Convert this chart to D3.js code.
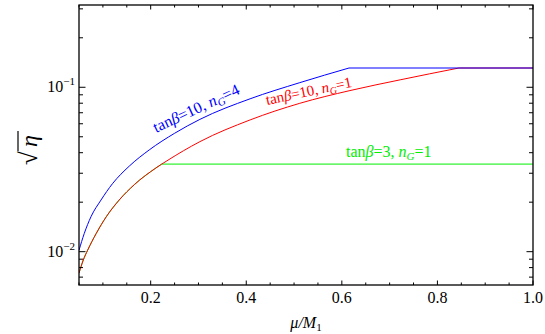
<!DOCTYPE html>
<html>
<head>
<meta charset="utf-8">
<script src="https://cdn.jsdelivr.net/npm/d3@7.9.0/dist/d3.min.js"></script>
<style>
  body { margin: 0; background: #fff; }
  svg { display: block; font-family: "Liberation Serif", "DejaVu Serif", serif; }
</style>
</head>
<body>
<svg id="chart" width="545" height="334"></svg>
<script>
// values: mu/M1 and sqrt(eta)
const blueMu  = [0.05, 0.061, 0.075, 0.096, 0.12, 0.155, 0.197, 0.25, 0.303, 0.408, 0.512, 0.615, 1.0];
const blueEta = [0.0102, 0.0129, 0.0163, 0.0206, 0.0259, 0.0331, 0.0416, 0.0525, 0.0638, 0.0851, 0.1067, 0.131, 0.131];

const redMu  = [0.05, 0.059, 0.068, 0.086, 0.107, 0.134, 0.166, 0.211, 0.234, 0.303, 0.408, 0.512, 0.617, 0.722, 0.845, 1.0];
const redEta = [0.0074, 0.0089, 0.0102, 0.0129, 0.0163, 0.0206, 0.0256, 0.0323, 0.0357, 0.0467, 0.0633, 0.0799, 0.0955, 0.111, 0.131, 0.131];

const greenMu  = [0.05, 0.059, 0.068, 0.086, 0.107, 0.134, 0.166, 0.211, 0.223, 1.0];
const greenEta = [0.0074, 0.0089, 0.0102, 0.0129, 0.0163, 0.0206, 0.0256, 0.0323, 0.0341, 0.0341];

const xTickValues = [0.2, 0.4, 0.6, 0.8, 1.0];
const xTickLabels = ["0.2", "0.4", "0.6", "0.8", "1.0"];
const yTickValues = [0.01, 0.1];
const yTickExps = ["\u22122", "\u22121"];

const svg = d3.select('#chart');
const pLeft = 79, pRight = 533, pTop = 5, pBottom = 285;

const x = d3.scaleLinear().domain([0.05, 1.0]).range([pLeft, pRight]);
const y = d3.scaleLog().domain([0.00627, 0.3166]).range([pBottom, pTop]);

svg.append('clipPath').attr('id', 'clip')
    .append('rect').attr('x', pLeft).attr('y', pTop).attr('width', pRight - pLeft).attr('height', pBottom - pTop);

const smooth = d3.line().x(d => x(d[0])).y(d => y(d[1])).curve(d3.curveMonotoneX);
const straight = d3.line().x(d => x(d[0])).y(d => y(d[1]));

const series = [
    { mu: greenMu, eta: greenEta, color: '#00ee00' },
    { mu: redMu, eta: redEta, color: '#ff0000' },
    { mu: blueMu, eta: blueEta, color: '#0000ff' }
];

const plot = svg.append('g').attr('clip-path', 'url(#clip)');
series.forEach(s => {
    const pts = d3.zip(s.mu, s.eta);
    // rising part is smooth, then the flat plateau starts with a sharp kink
    const k = s.eta.indexOf(s.eta[s.eta.length - 1]);
    plot.append('path')
        .attr('d', smooth(pts.slice(0, k + 1)) + straight(pts.slice(k)).replace('M', 'L'))
        .attr('fill', 'none')
        .attr('stroke', s.color)
        .attr('stroke-width', 1);
});

// ticks (pointing inward, mirrored on top/right)
const xMinor = d3.range(0.05, 1.0001, 0.05).filter(v => !xTickValues.some(t => Math.abs(t - v) < 1e-6));
const yMinor = [];
[0.001, 0.01, 0.1].forEach(dec => {
    for (let k = 2; k <= 9; k++) {
        const v = dec * k;
        if (v > 0.00627 && v < 0.3166) yMinor.push(v);
    }
});

const ticks = svg.append('g').attr('stroke', '#000').attr('stroke-width', 1);
function xTick(v, len) {
    ticks.append('line').attr('x1', x(v)).attr('x2', x(v)).attr('y1', pBottom).attr('y2', pBottom - len);
    ticks.append('line').attr('x1', x(v)).attr('x2', x(v)).attr('y1', pTop).attr('y2', pTop + len);
}
function yTick(v, len) {
    ticks.append('line').attr('x1', pLeft).attr('x2', pLeft + len).attr('y1', y(v)).attr('y2', y(v));
    ticks.append('line').attr('x1', pRight).attr('x2', pRight - len).attr('y1', y(v)).attr('y2', y(v));
}
xTickValues.forEach(v => xTick(v, 4.5));
xMinor.forEach(v => xTick(v, 2.5));
yTickValues.forEach(v => yTick(v, 6.5));
yMinor.forEach(v => yTick(v, 4));

svg.append('rect')
    .attr('x', pLeft).attr('y', pTop).attr('width', pRight - pLeft).attr('height', pBottom - pTop)
    .attr('fill', 'none').attr('stroke', '#000').attr('stroke-width', 1.3);

// tick labels
svg.append('g').selectAll('text')
    .data(xTickValues)
    .enter().append('text')
    .attr('x', d => x(d))
    .attr('y', 303)
    .attr('text-anchor', 'middle')
    .style('font-size', '16px')
    .text((d, i) => xTickLabels[i]);

yTickValues.forEach((v, i) => {
    const t = svg.append('text')
        .attr('x', 75).attr('y', y(v) + 5)
        .attr('text-anchor', 'end')
        .style('font-size', '16px');
    t.append('tspan').text('10');
    t.append('tspan').attr('dy', -7).style('font-size', '11px').text(yTickExps[i]);
});

// axis labels
const xl = svg.append('text')
    .attr('x', 306).attr('y', 328)
    .attr('text-anchor', 'middle')
    .style('font-size', '16px')
    .style('font-style', 'italic');
xl.append('tspan').text('\u03bc/M');
xl.append('tspan').attr('dy', 3).style('font-size', '11px').style('font-style', 'normal').text('1');

const yl = svg.append('g').attr('transform', 'translate(37,143) rotate(-90)');
yl.append('text')
    .attr('x', -22).attr('y', 0)
    .style('font-size', '25px')
    .text('\u221a');
yl.append('text')
    .attr('x', -4).attr('y', 0)
    .style('font-size', '24px')
    .style('font-style', 'italic')
    .text('\u03b7');
yl.append('line')
    .attr('x1', -8).attr('x2', 12).attr('y1', -19).attr('y2', -19)
    .attr('stroke', '#000').attr('stroke-width', 1.2);

// curve labels
function curveLabel(tx, ty, angle, color, tanb, ng, size) {
    const t = svg.append('text')
        .attr('transform', `translate(${tx},${ty}) rotate(${angle})`)
        .attr('fill', color)
        .style('font-size', size + 'px');
    t.append('tspan').text('tan');
    t.append('tspan').style('font-style', 'italic').text('\u03b2');
    t.append('tspan').text('=' + tanb + ', ');
    t.append('tspan').style('font-style', 'italic').text('n');
    t.append('tspan').attr('dy', 3).style('font-style', 'italic').style('font-size', (size - 5) + 'px').text('G');
    t.append('tspan').attr('dy', -3).text('=' + ng);
}
curveLabel(156, 133, -25, '#0000ff', 10, 4, 16);
curveLabel(267, 105, -12, '#ff0000', 10, 1, 15);
curveLabel(346, 157, 0, '#00ee00', 3, 1, 16);
</script>
</body>
</html>
